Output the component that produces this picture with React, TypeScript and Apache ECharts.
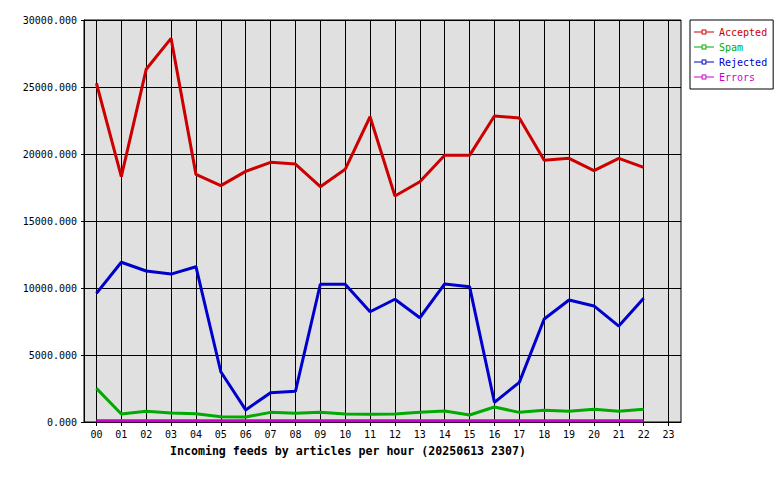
import React, { useEffect, useRef } from "react";
import * as echarts from "echarts";

const hours = ["00","01","02","03","04","05","06","07","08","09","10","11","12","13","14","15","16","17","18","19","20","21","22","23"];
const accepted = [25280,18310,26320,28630,18480,17640,18700,19380,19250,17560,18860,22780,16870,17930,19900,19900,22840,22690,19530,19680,18760,19680,19000];
const spam = [2510,600,800,670,620,400,370,720,650,720,600,570,600,720,820,520,1120,720,870,800,950,800,950];
const rejected = [9600,11920,11270,11040,11590,3750,900,2190,2290,10280,10280,8230,9160,7780,10300,10100,1470,2960,7690,9100,8660,7160,9230];
const errors = [90,90,90,90,90,90,90,90,90,90,90,90,90,90,90,90,90,90,90,90,90,90,90];
const yTicks = [0, 5000, 10000, 15000, 20000, 25000, 30000];
const xTitle = "Incoming feeds by articles per hour (20250613 2307)";

const seriesDefs = [
  { name: "Accepted", data: accepted, color: "#cc0000" },
  { name: "Spam", data: spam, color: "#00aa00" },
  { name: "Rejected", data: rejected, color: "#0000cc" },
  { name: "Errors", data: errors, color: "#cc00cc" },
];

const MONO = "'DejaVu Sans Mono', monospace";
const ICON = "path://M0,2H8V0H13V2H21V3H13V5H8V3H0Z M9,1V4H12V1Z";

export default function App() {
  const ref = useRef<HTMLDivElement>(null);
  useEffect(() => {
    if (!ref.current) return;
    const chart = echarts.init(ref.current, null, { renderer: "svg" });
    chart.setOption({
      animation: false,
      backgroundColor: "#ffffff",
      title: {
        text: xTitle,
        left: 170,
        top: 445,
        padding: 0,
        textStyle: { fontFamily: MONO, fontSize: 11.6, fontWeight: "bold", color: "#000" },
      },
      legend: {
        orient: "vertical",
        left: 690,
        top: 20,
        align: "left",
        padding: [6, 6, 6, 4],
        itemGap: 3,
        itemWidth: 20,
        itemHeight: 5,
        symbolKeepAspect: false,
        borderColor: "#000",
        borderWidth: 1,
        borderRadius: 0,
        backgroundColor: "#fff",
        textStyle: { fontFamily: MONO, fontSize: 10, lineHeight: 12 },
        data: seriesDefs.map((s) => ({ name: s.name, icon: ICON, textStyle: { color: s.color } })),
      },
      grid: {
        left: 84,
        right: 99,
        top: 20,
        bottom: 58,
        show: true,
        backgroundColor: "#e0e0e0",
        borderColor: "#000",
        borderWidth: 1,
        containLabel: false,
      },
      xAxis: {
        type: "category",
        data: hours,
        boundaryGap: true,
        axisLine: { show: true, lineStyle: { color: "#000", width: 1 } },
        axisTick: { show: true, alignWithLabel: true, length: 4, lineStyle: { color: "#000" } },
        splitLine: { show: true, alignWithLabel: true, lineStyle: { color: "#000", width: 1 } },
        axisLabel: { interval: 0, margin: 7, fontFamily: MONO, fontSize: 10, color: "#000" },
      },
      yAxis: {
        type: "value",
        min: yTicks[0],
        max: yTicks[yTicks.length - 1],
        interval: yTicks[1] - yTicks[0],
        axisLine: { show: true, lineStyle: { color: "#000", width: 1 } },
        axisTick: { show: true, length: 3, lineStyle: { color: "#000" } },
        splitLine: { show: true, lineStyle: { color: "#000", width: 1 } },
        axisLabel: {
          margin: 7,
          fontFamily: MONO,
          fontSize: 10,
          color: "#000",
          formatter: (v: number) => v.toFixed(3),
        },
      },
      series: seriesDefs.map((s) => ({
        name: s.name,
        type: "line",
        data: s.data,
        symbol: "emptyRect",
        showSymbol: false,
        color: s.color,
        lineStyle: { color: s.color, width: 3 },
        itemStyle: { color: s.color },
        emphasis: { disabled: true },
      })),
    });
    return () => chart.dispose();
  }, []);
  return (
    <div
      ref={ref}
      style={{ position: "fixed", left: 0, top: 0, width: 780, height: 480 }}
    />
  );
}
